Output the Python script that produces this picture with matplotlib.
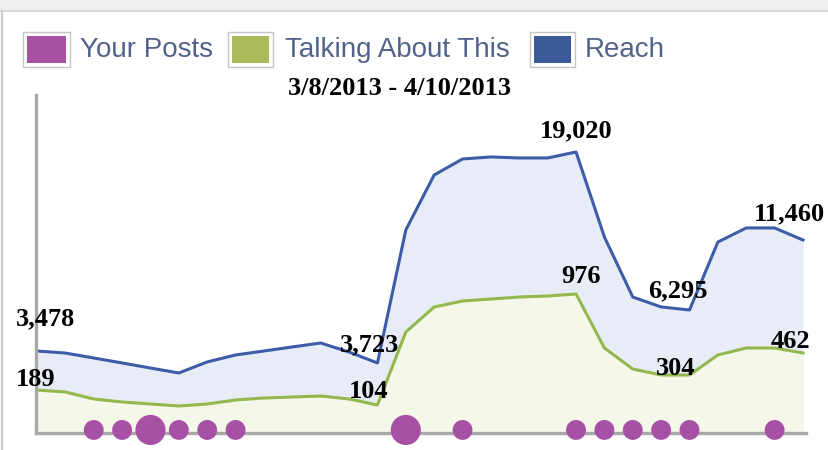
import matplotlib
matplotlib.use('Agg')
import matplotlib.pyplot as plt
import numpy as np
from matplotlib.patches import Rectangle
from matplotlib.lines import Line2D

# ---------------- data ----------------
days = np.arange(28)
reach = [3350, 3190, 2800, 2410, 2010, 1620, 2490, 3040, 3350, 3670, 3980, 3270,
         2410, 12880, 17210, 18470, 18630, 18550, 18550, 19020, 12330, 7600,
         6820, 6580, 11930, 13040, 13040, 12090]
talking = [208, 192, 136, 112, 96, 80, 96, 128, 144, 152, 160, 136, 88, 672, 872,
           920, 936, 952, 960, 976, 544, 376, 328, 328, 488, 544, 544, 504]
posts = [0, 0, 1, 1, 2, 1, 1, 1, 0, 0, 0, 0, 0, 2, 0, 1, 0, 0, 0, 1, 1, 1, 1, 1,
         0, 0, 1, 0]

reach_label_idx = [0, 12, 19, 23, 26]
reach_label_txt = ["3,478", "3,723", "19,020", "6,295", "11,460"]
talk_label_idx = [0, 12, 19, 23, 26]
talk_label_txt = ["189", "104", "976", "304", "462"]

legend_labels = ["Your Posts", "Talking About This", "Reach"]
title = "3/8/2013 - 4/10/2013"

# ---------------- style ----------------
C_POST = '#a651a6'
C_TALK = '#93b84e'
C_REACH = '#3d5ca8'
F_REACH = '#e8ecf6'
F_TALK = '#f5f7e9'
LEG_COL = ['#a651a2', '#a9bb5a', '#3c5a9a']

W, H = 829, 450
fig = plt.figure(figsize=(W / 100, H / 100), dpi=100)

def fx(x):
    return x / W

def fy(y):
    return 1 - y / H

# frame decorations
fig.patches.append(Rectangle((0, fy(10)), 1, fy(0) - fy(10), transform=fig.transFigure,
                             facecolor='#eeeeee', edgecolor='none'))
fig.lines.append(Line2D([0, 1], [fy(10.5), fy(10.5)], transform=fig.transFigure,
                        color='#d2d2d2', lw=1.2))
fig.lines.append(Line2D([fx(2.5), fx(2.5)], [fy(10.5), 0], transform=fig.transFigure,
                        color='#cccccc', lw=1.5))

ax_l, ax_r, ax_t, ax_b = 36, 806, 95, 433
rect = [fx(ax_l), fy(ax_b), fx(ax_r) - fx(ax_l), fy(ax_t) - fy(ax_b)]
ax = fig.add_axes(rect)
ax2 = ax.twinx()
ax3 = ax.twinx()

xlim = (-0.035, 27.106)
reach_lim = (-3106, 23508)
talk_lim = (-136, 2568)

for a in (ax, ax2, ax3):
    a.set_xlim(*xlim)
    a.set_xticks([])
    a.set_yticks([])
    for s in a.spines.values():
        s.set_visible(False)
ax.set_ylim(*reach_lim)
ax3.set_ylim(*reach_lim)
ax2.set_ylim(*talk_lim)

# reach fill (bottom)
ax.fill_between(days, reach, reach_lim[0], color=F_REACH, lw=0)
# talking fill + line
ax2.fill_between(days, talking, talk_lim[0], color=F_TALK, lw=0)
ax2.plot(days, talking, color=C_TALK, lw=2.2, solid_joinstyle='round')
# reach line
ax3.plot(days, reach, color=C_REACH, lw=2.2, solid_joinstyle='round')

for sp in ('left', 'bottom'):
    ax3.spines[sp].set_visible(True)
    ax3.spines[sp].set_color('#a8a8a8')
    ax3.spines[sp].set_linewidth(2.4)

# posts dots
posts_arr = np.array(posts)
mask = posts_arr > 0
sizes = np.where(posts_arr[mask] >= 2, 470, 205)
ax3.scatter(days[mask], np.full(mask.sum(), 0.009), s=sizes, color=C_POST,
            transform=ax3.get_xaxis_transform(), clip_on=False, zorder=5, lw=0)

# value labels
lab_font = dict(family='Liberation Serif', weight='bold', fontsize=19, color='black')
reach_off = [(9, 26), (-8, 12), (0, 15), (-12, 13), (15, 8)]
for i, t, o in zip(reach_label_idx, reach_label_txt, reach_off):
    ax3.annotate(t, (days[i], reach[i]), xytext=o, textcoords='offset pixels',
                 ha='center', va='baseline', annotation_clip=False, zorder=6, **lab_font)
talk_off = [(-1, 4), (-9, 7), (5, 11), (-14, 0), (16, 0)]
for i, t, o in zip(talk_label_idx, talk_label_txt, talk_off):
    ax3.annotate(t, xy=(days[i], talking[i]), xycoords=ax2.transData, xytext=o,
                 textcoords='offset pixels', ha='center', va='baseline',
                 annotation_clip=False, zorder=6, **lab_font)

# title
fig.text(fx(400), fy(95), title, ha='center', va='baseline', **lab_font)

# legend
boxes = [(23, 70), (228, 273), (530, 575)]
text_x = [80, 285, 585]
for (x0, x1), tx, lab, col in zip(boxes, text_x, legend_labels, LEG_COL):
    fig.patches.append(Rectangle((fx(x0), fy(67)), fx(x1) - fx(x0), fy(32) - fy(67),
                                 transform=fig.transFigure, facecolor='white',
                                 edgecolor='#c4c4c4', lw=1.0))
    fig.patches.append(Rectangle((fx(x0 + 4), fy(63)), fx(x1 - 4) - fx(x0 + 4),
                                 fy(36) - fy(63), transform=fig.transFigure,
                                 facecolor=col, edgecolor='none'))
    fig.text(fx(tx), fy(57), lab, ha='left', va='baseline', fontsize=20,
             family='Liberation Sans', color='#52628a')

fig.savefig('out.png', dpi=100)
